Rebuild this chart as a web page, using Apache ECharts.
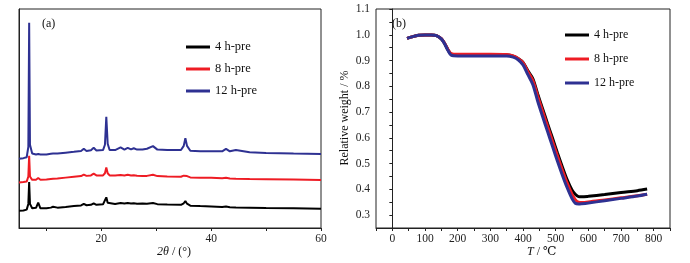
<!DOCTYPE html>
<html>
<head>
<meta charset="utf-8">
<script src="https://cdn.jsdelivr.net/npm/echarts@6/dist/echarts.min.js"></script>
<style>
  html, body { margin: 0; padding: 0; background: #fff; }
  #main { width: 690px; height: 263px; }
</style>
</head>
<body>
<div id="main"></div>
<script>
// (a) XRD patterns, 2theta grid shared by all three samples
const theta = [5, 5.8, 6.4, 6.7, 6.85, 7.0, 7.4, 8.1, 8.5, 8.9, 10, 10.8, 11.2, 12, 13.5, 15, 16.3, 16.8, 17.3, 18.1,
  18.6, 19.1, 20.3, 20.65, 20.9, 21.15, 21.5, 22.5, 23.5, 24.2, 24.8, 25.4, 25.9, 26.5, 27.5, 28.3, 29.4, 30.2, 32, 34.5,
  35.0, 35.3, 35.6, 36.2, 38, 40, 42, 42.7, 43.4, 44.5, 47, 50, 55, 60];
const xrd4h = [7.9, 8.0, 8.4, 11, 21, 11, 9.0, 9.2, 11.6, 9.0, 9.0, 9.3, 9.7, 9.3, 9.6, 10.0, 10.3, 11.0, 10.4, 10.6,
  11.3, 10.6, 10.8, 11.5, 14, 11.5, 10.8, 11.0, 11.4, 11.2, 11.4, 11.2, 11.3, 11.1, 11.2, 11.1, 11.4, 10.9, 10.7, 10.6,
  11.3, 12.3, 11.1, 10.2, 10.0, 9.8, 9.6, 9.8, 9.5, 9.4, 9.3, 9.1, 9.0, 8.8];
const xrd8h = [20.8, 21.0, 21.2, 23.5, 33, 23.5, 22.0, 22.0, 22.8, 22.0, 22.2, 22.4, 22.5, 22.6, 23.0, 23.4, 23.7, 24.4, 23.8, 24.0,
  24.8, 24.0, 24.0, 25.0, 27.6, 25.0, 24.0, 24.0, 24.2, 24.0, 24.3, 24.0, 24.1, 23.9, 23.8, 23.8, 24.3, 23.7, 23.5, 23.4,
  23.9, 24.7, 23.7, 23.1, 23.0, 22.9, 22.7, 22.9, 22.6, 22.5, 22.4, 22.3, 22.1, 21.9];
const xrd12h = [31.6, 31.9, 32.3, 37, 93.7, 38, 34, 33.6, 33.8, 33.6, 33.6, 33.9, 34.0, 34.0, 34.4, 34.8, 35.2, 36.2, 35.2, 35.5,
  36.6, 35.4, 35.6, 38, 50.8, 38.5, 35.6, 35.6, 36.8, 35.8, 36.6, 35.9, 36.4, 35.8, 35.8, 36.2, 37.4, 35.8, 35.6, 35.6,
  37.5, 41, 37.5, 35.3, 35.0, 35.0, 35.0, 36.1, 35.0, 35.6, 34.6, 34.3, 34.0, 33.8];
const xrdTicks = [10, 20, 30, 40, 50, 60];
const xrdLabels = [20, 40, 60];

// (b) TGA curves
const tgaT = [45, 60, 80, 100, 120, 135, 150, 160, 170, 180, 200, 250, 300, 350, 370, 385, 400, 415, 430, 445,
  460, 475, 490, 505, 520, 535, 550, 560, 570, 580, 600, 650, 700, 750, 780];
const tga4h = [0.986, 0.992, 0.998, 0.999, 0.999, 0.997, 0.984, 0.966, 0.942, 0.925, 0.921, 0.921, 0.921, 0.921, 0.917, 0.908, 0.893, 0.860, 0.830, 0.770,
  0.713, 0.656, 0.600, 0.543, 0.489, 0.438, 0.398, 0.381, 0.372, 0.371, 0.373, 0.380, 0.388, 0.395, 0.401];
const tga8h = [0.986, 0.992, 0.998, 0.999, 0.999, 0.997, 0.985, 0.967, 0.944, 0.927, 0.924, 0.924, 0.924, 0.923, 0.918, 0.908, 0.892, 0.857, 0.823, 0.762,
  0.703, 0.645, 0.588, 0.531, 0.476, 0.425, 0.381, 0.360, 0.350, 0.349, 0.351, 0.359, 0.367, 0.375, 0.381];
const tga12h = [0.986, 0.992, 0.998, 0.999, 0.999, 0.997, 0.984, 0.965, 0.940, 0.921, 0.918, 0.918, 0.918, 0.918, 0.913, 0.903, 0.883, 0.845, 0.807, 0.742,
  0.683, 0.625, 0.568, 0.511, 0.457, 0.407, 0.364, 0.346, 0.343, 0.344, 0.347, 0.356, 0.365, 0.374, 0.381];

const names = ['4 h-pre', '8 h-pre', '12 h-pre'];
const colors = ['#000000', '#ee1c24', '#2e3192'];
const serif = '"Liberation Serif", "DejaVu Serif", serif';

const pairs = (xs, ys) => xs.map((x, i) => [x, ys[i]]);

const axisCommon = {
  axisLine: { lineStyle: { color: '#222', width: 1 } },
  axisTick: { inside: false, length: 3, lineStyle: { color: '#222' } },
  axisLabel: { color: '#222', fontFamily: serif, fontSize: 11.5, margin: 5 },
  splitLine: { show: false },
};

const legendCommon = {
  orient: 'vertical', padding: 0, itemWidth: 24, itemHeight: 3, itemTextGap: 3, icon: 'rect',
  data: names,
};

const options = {
  backgroundColor: '#fff',
  animation: false,
  color: colors,
  grid: [
    { left: 19, top: 9, width: 302, height: 219, show: true, borderColor: '#222', borderWidth: 1 },
    { left: 376, top: 9, width: 294, height: 219, show: true, borderColor: '#222', borderWidth: 1 },
  ],
  legend: [
    {
      ...legendCommon, left: 186, top: 40, itemGap: 8,
      textStyle: { fontFamily: serif, fontSize: 12.5, color: '#111', lineHeight: 14 },
    },
    {
      ...legendCommon, left: 565, top: 28, itemGap: 10,
      textStyle: { fontFamily: serif, fontSize: 12, color: '#111', lineHeight: 14 },
    },
  ],
  xAxis: [
    {
      ...axisCommon,
      gridIndex: 0, type: 'value', min: 5, max: 60,
      axisTick: { ...axisCommon.axisTick, customValues: xrdTicks },
      axisLabel: { ...axisCommon.axisLabel, customValues: xrdLabels },
    },
    {
      ...axisCommon,
      gridIndex: 1, type: 'value', min: -50, max: 850, interval: 50,
      axisLabel: {
        ...axisCommon.axisLabel,
        formatter: (v) => (Math.round(v) % 100 === 0 ? String(Math.round(v)) : ''),
      },
    },
  ],
  yAxis: [
    {
      ...axisCommon,
      gridIndex: 0, type: 'value', min: 0, max: 100,
      axisTick: { show: false },
      axisLabel: { show: false },
    },
    {
      ...axisCommon,
      gridIndex: 1, type: 'value', min: 0.25, max: 1.1, interval: 0.05,
      axisLabel: {
        ...axisCommon.axisLabel, margin: 6,
        formatter: (v) => (Math.round(v * 100) % 10 === 0 ? v.toFixed(1) : ''),
      },
    },
  ],
  series: [
    ...[xrd4h, xrd8h, xrd12h].map((d, i) => ({
      name: names[i], type: 'line', xAxisIndex: 0, yAxisIndex: 0,
      data: pairs(theta, d), showSymbol: false, symbol: 'none',
      lineStyle: { width: 2, color: colors[i] }, itemStyle: { color: colors[i] },
    })),
    ...[tga4h, tga8h, tga12h].map((d, i) => ({
      name: names[i], type: 'line', xAxisIndex: 1, yAxisIndex: 1, smooth: 0.3,
      data: pairs(tgaT, d), showSymbol: false, symbol: 'none',
      lineStyle: { width: 3, color: colors[i] }, itemStyle: { color: colors[i] },
    })),
  ],
  graphic: [
    { type: 'text', left: 42, top: 18, style: { text: '(a)', font: '12px ' + serif, fill: '#111' } },
    { type: 'text', left: 392, top: 18, style: { text: '(b)', font: '12px ' + serif, fill: '#111' } },
    {
      type: 'text', left: 157, top: 246,
      style: {
        text: '{i|2θ} / (°)', font: '12px ' + serif, fill: '#111',
        rich: { i: { fontStyle: 'italic', fontFamily: serif, fontSize: 12 } },
      },
    },
    {
      type: 'text', left: 527, top: 246,
      style: {
        text: '{i|T} / ℃', font: '12px ' + serif, fill: '#111',
        rich: { i: { fontStyle: 'italic', fontFamily: serif, fontSize: 12 } },
      },
    },
    {
      type: 'text', x: 345, y: 118, rotation: Math.PI / 2,
      style: { text: 'Relative weight / %', font: '12px ' + serif, fill: '#111', align: 'center', verticalAlign: 'middle' },
    },
  ],
};

const myChart = echarts.init(document.getElementById('main'), null, { renderer: 'canvas' });
myChart.setOption(options);
</script>
</body>
</html>
